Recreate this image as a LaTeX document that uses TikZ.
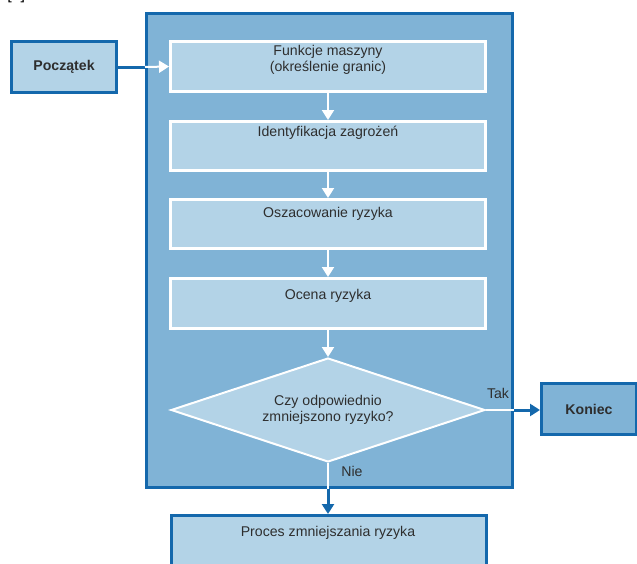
\documentclass[tikz,border=0pt]{standalone}
\usepackage{fontspec}
\setmainfont{Liberation Sans}
\usetikzlibrary{shapes.geometric,arrows.meta}
\definecolor{dblue}{HTML}{1468AC}
\definecolor{mblue}{HTML}{80B3D6}
\definecolor{lblue}{HTML}{B3D3E7}
\definecolor{tgray}{HTML}{2E2E2E}
\newcommand\pxu{0.75pt}
\begin{document}
\begin{tikzpicture}[x=0.75pt,y=-0.75pt,
  every node/.style={font=\fontsize{10.6}{12.2}\selectfont, text=tgray},
  outerbox/.style={draw=dblue, line width=2.25pt, fill=mblue, inner sep=0},
  endbox/.style={draw=dblue, line width=2.25pt, inner sep=0, font=\bfseries\fontsize{10.6}{12}\selectfont},
  stepbox/.style={draw=white, line width=2.25pt, fill=lblue, inner sep=0, minimum width=315*\pxu},
  steptext/.style={align=center, inner sep=0},
  whiteline/.style={draw=white, line width=1.5pt},
  whitearrow/.style={whiteline, -{Triangle[width=9pt,length=7.5pt]}},
  blueline/.style={draw=dblue, line width=2.25pt},
  bluearrow/.style={blueline, -{Triangle[width=9pt,length=7.5pt]}},
  tag/.style={inner sep=0, anchor=base}]
\useasboundingbox (0,0) rectangle (637,564);
\clip (0,0) rectangle (637,564);
% fragment of preceding text
\node[anchor=base west, inner sep=0, text=black, font=\fontsize{12}{14}\selectfont] (ref) at (7,-0.5) {[5].};
% container
\node[outerbox, minimum width=366*\pxu, minimum height=474*\pxu] (cont) at (329.5,250.5) {};
% start / end
\node[endbox, fill=lblue, minimum width=105*\pxu, minimum height=51*\pxu] (start) at (64,67) {Początek};
\node[endbox, fill=mblue, minimum width=95*\pxu, minimum height=51*\pxu] (end) at (589,409) {Koniec};
% steps
\node[stepbox, minimum height=50*\pxu] (b1) at (328,66.5) {};
\node[stepbox, minimum height=49*\pxu] (b2) at (328,146) {};
\node[stepbox, minimum height=49*\pxu] (b3) at (328,224) {};
\node[stepbox, minimum height=50*\pxu] (b4) at (328,303.5) {};
\node[steptext] (t1) at (328,59.5) {Funkcje maszyny\\(określenie granic)};
\node[steptext, anchor=base] (t2) at (328,137) {Identyfikacja zagrożeń};
\node[steptext, anchor=base] (t3) at (328,217) {Oszacowanie ryzyka};
\node[steptext, anchor=base] (t4) at (328,299) {Ocena ryzyka};
% decision
\node[diamond, draw=white, line width=1.5pt, fill=lblue, inner sep=0,
      minimum width=314*\pxu, minimum height=104*\pxu] (dec) at (328,410) {};
\node[steptext] (tdec) at (328,410) {Czy odpowiednio\\zmniejszono ryzyko?};
% bottom process
\node[draw=dblue, line width=2.25pt, fill=lblue, inner sep=0,
      minimum width=315*\pxu, minimum height=60*\pxu] (proc) at (328.5,545.5) {};
\node[steptext, anchor=base] (tproc) at (328,536) {Proces zmniejszania ryzyka};
% connectors
\draw[blueline] (start.east) -- (cont.west |- start.east);
\draw[whitearrow] (cont.west |- start.east) -- (b1.west);
\draw[whitearrow] (b1.south) -- (b2.north);
\draw[whitearrow] (b2.south) -- (b3.north);
\draw[whitearrow] (b3.south) -- (b4.north);
\draw[whitearrow] (b4.south) -- (dec.north);
\draw[whiteline] (dec.east) -- (cont.east |- dec.east);
\draw[bluearrow] (cont.east |- dec.east) -- (end.west |- dec.east);
\draw[whiteline] (dec.south) -- (dec.south |- cont.south);
\draw[bluearrow] (dec.south |- cont.south) -- (proc.north -| dec.south);
% labels
\node[tag] (tak) at (498,398) {Tak};
\node[tag] (nie) at (352,476) {Nie};
\end{tikzpicture}
\end{document}
